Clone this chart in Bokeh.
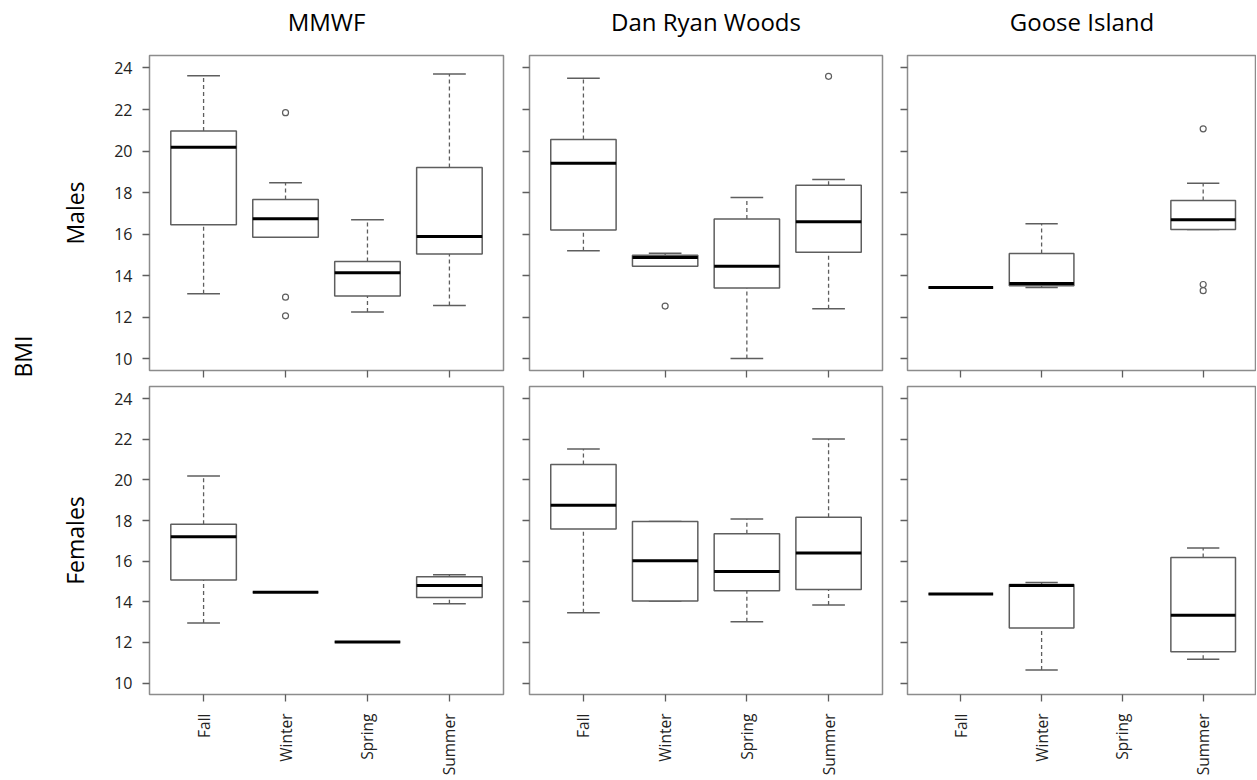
import math
from bokeh.plotting import figure
from bokeh.layouts import row, column
from bokeh.models import Range1d, FixedTicker, LinearAxis
from bokeh.embed import file_html
from bokeh.resources import INLINE
from bokeh.core.properties import value

NAN = float("nan")

seasons = ["Fall", "Winter", "Spring", "Summer"]
sites = ["MMWF", "Dan Ryan Woods", "Goose Island"]
sexes = ["Males", "Females"]
y_ticks = [10, 12, 14, 16, 18, 20, 22, 24]

# Box statistics per season (Fall, Winter, Spring, Summer)
mmwf_males = dict(
    lo=[13.13, 15.85, 12.25, 12.57],
    q1=[16.45, 15.85, 13.03, 15.05],
    med=[20.18, 16.74, 14.14, 15.89],
    q3=[20.97, 17.67, 14.68, 19.21],
    hi=[23.62, 18.47, 16.69, 23.71],
    out_season=["Winter", "Winter", "Winter"],
    out_value=[21.85, 12.97, 12.07],
)
danryan_males = dict(
    lo=[15.20, 14.46, 10.02, 12.41],
    q1=[16.20, 14.46, 13.41, 15.13],
    med=[19.41, 14.88, 14.46, 16.60],
    q3=[20.56, 14.99, 16.73, 18.35],
    hi=[23.50, 15.08, 17.77, 18.63],
    out_season=["Winter", "Summer"],
    out_value=[12.54, 23.60],
)
goose_males = dict(
    lo=[13.44, 13.44, NAN, 16.22],
    q1=[13.44, 13.52, NAN, 16.22],
    med=[13.44, 13.63, NAN, 16.70],
    q3=[13.44, 15.07, NAN, 17.62],
    hi=[13.44, 16.50, NAN, 18.45],
    out_season=["Summer", "Summer", "Summer"],
    out_value=[21.07, 13.58, 13.28],
)
mmwf_females = dict(
    lo=[12.96, 14.47, 12.03, 13.91],
    q1=[15.07, 14.47, 12.03, 14.22],
    med=[17.21, 14.47, 12.03, 14.81],
    q3=[17.82, 14.47, 12.03, 15.23],
    hi=[20.19, 14.47, 12.03, 15.33],
    out_season=[],
    out_value=[],
)
danryan_females = dict(
    lo=[13.46, 14.04, 13.02, 13.84],
    q1=[17.58, 14.04, 14.55, 14.61],
    med=[18.75, 16.02, 15.50, 16.40],
    q3=[20.76, 17.95, 17.35, 18.17],
    hi=[21.52, 17.95, 18.08, 22.02],
    out_season=[],
    out_value=[],
)
goose_females = dict(
    lo=[14.39, 10.65, NAN, 11.18],
    q1=[14.39, 12.71, NAN, 11.55],
    med=[14.39, 14.81, NAN, 13.34],
    q3=[14.39, 14.85, NAN, 16.18],
    hi=[14.39, 14.95, NAN, 16.65],
    out_season=[],
    out_value=[],
)

panels = [
    [mmwf_males, danryan_males, goose_males],
    [mmwf_females, danryan_females, goose_females],
]

FONT = "Open Sans"
BOX = "#5e5e5e"
FRAME = "#8c8c8c"
TXT = "#222222"
BOX_W = 0.8
CAP_W = 0.4

FRAME_W = [354, 353, 349]
FRAME_H = [315, 314]
LEFT = [104, 21, 20]
RIGHT = [5, 5, 0]
TOP = [55, 8]
BOTTOM = [8, 78]
BMI_W = 45


def make_panel(stats, r, c):
    w = LEFT[c] + FRAME_W[c] + RIGHT[c]
    h = TOP[r] + FRAME_H[r] + BOTTOM[r]
    p = figure(width=w, height=h, x_range=Range1d(0.34, 4.66), y_range=Range1d(9.44, 24.6),
               output_backend="svg", toolbar_location=None, title=None,
               min_border_left=LEFT[c], min_border_right=RIGHT[c],
               min_border_top=TOP[r], min_border_bottom=BOTTOM[r])
    p.xgrid.visible = False
    p.ygrid.visible = False
    p.outline_line_color = FRAME
    p.outline_line_width = 1.5
    p.background_fill_color = "white"
    p.border_fill_color = "white"

    if r == 0:
        top_axis = LinearAxis(axis_label=sites[c], ticker=FixedTicker(ticks=[]),
                              axis_line_color=None, major_tick_line_color=None,
                              minor_tick_line_color=None, major_tick_out=0,
                              major_tick_in=0, major_label_standoff=0,
                              major_label_text_font_size="1px",
                              axis_label_standoff=18,
                              axis_label_text_font=FONT,
                              axis_label_text_font_size="24px",
                              axis_label_text_font_style="normal",
                              axis_label_text_color="black")
        p.add_layout(top_axis, "above")

    idx = [i for i in range(4) if not math.isnan(stats["med"][i])]
    xs = [i + 1 for i in idx]
    lo = [stats["lo"][i] for i in idx]
    q1 = [stats["q1"][i] for i in idx]
    med = [stats["med"][i] for i in idx]
    q3 = [stats["q3"][i] for i in idx]
    hi = [stats["hi"][i] for i in idx]

    p.segment(xs, q3, xs, hi, line_color=BOX, line_width=1.3, line_dash="4 3")
    p.segment(xs, lo, xs, q1, line_color=BOX, line_width=1.3, line_dash="4 3")
    p.segment([x - CAP_W / 2 for x in xs], hi, [x + CAP_W / 2 for x in xs], hi,
              line_color=BOX, line_width=1.5)
    p.segment([x - CAP_W / 2 for x in xs], lo, [x + CAP_W / 2 for x in xs], lo,
              line_color=BOX, line_width=1.5)
    p.vbar(x=xs, width=BOX_W, bottom=q1, top=q3, fill_color="white",
           line_color=BOX, line_width=1.5)
    p.segment([x - BOX_W / 2 for x in xs], med, [x + BOX_W / 2 for x in xs], med,
              line_color="black", line_width=3)
    if stats["out_value"]:
        ox = [seasons.index(s) + 1 for s in stats["out_season"]]
        p.scatter(ox, stats["out_value"], marker="circle", size=6,
                  fill_color="white", line_color=BOX, line_width=1.2)

    # axes
    p.below[0].ticker = FixedTicker(ticks=[1, 2, 3, 4])
    p.left[0].ticker = FixedTicker(ticks=y_ticks)
    xax = p.below[0]
    yax = p.left[0]
    for ax in (xax, yax):
        ax.axis_line_color = None
        ax.major_tick_in = 0
        ax.major_tick_out = 7
        ax.major_tick_line_color = BOX
        ax.major_tick_line_width = 1.3
        ax.minor_tick_line_color = None
        ax.major_label_text_font = FONT
        ax.major_label_text_color = TXT

    if r == 1:
        xax.major_label_overrides = {i + 1: s for i, s in enumerate(seasons)}
        xax.major_label_orientation = math.pi / 2
        xax.major_label_text_font_size = "15.5px"
        xax.major_label_standoff = 12
    else:
        xax.major_label_overrides = {i + 1: "" for i in range(4)}
        xax.major_label_text_font_size = "1px"
        xax.major_label_standoff = 0

    if c == 0:
        yax.major_label_text_font_size = "16px"
        yax.major_label_standoff = 10
        yax.axis_label = sexes[r]
        yax.axis_label_text_font = FONT
        yax.axis_label_text_font_size = "23px"
        yax.axis_label_text_font_style = "normal"
        yax.axis_label_text_color = "black"
        yax.axis_label_standoff = 20
    else:
        yax.major_label_overrides = {t: "" for t in y_ticks}
        yax.major_label_text_font_size = "1px"
        yax.major_label_standoff = 0
    return p


rows = []
for r in range(2):
    rows.append(row([make_panel(panels[r][c], r, c) for c in range(3)], spacing=0))
grid = column(rows, spacing=0)

total_h = sum(TOP) + sum(BOTTOM) + sum(FRAME_H)
bmi = figure(width=BMI_W, height=total_h, x_range=Range1d(0, BMI_W), y_range=Range1d(0, total_h),
             output_backend="svg", toolbar_location=None, title=None,
             min_border=0, min_border_left=0, min_border_right=0,
             min_border_top=0, min_border_bottom=0)
bmi.xaxis.visible = False
bmi.yaxis.visible = False
bmi.xgrid.visible = False
bmi.ygrid.visible = False
bmi.outline_line_color = None
bmi.text(x=[22], y=[total_h - 356], text=["BMI"], angle=math.pi / 2,
         text_align="center", text_baseline="middle", text_font=value(FONT),
         text_font_size="23px", text_color="black")

layout = row([bmi, grid], spacing=0)

open("out.html", "w").write(file_html(layout, INLINE))
